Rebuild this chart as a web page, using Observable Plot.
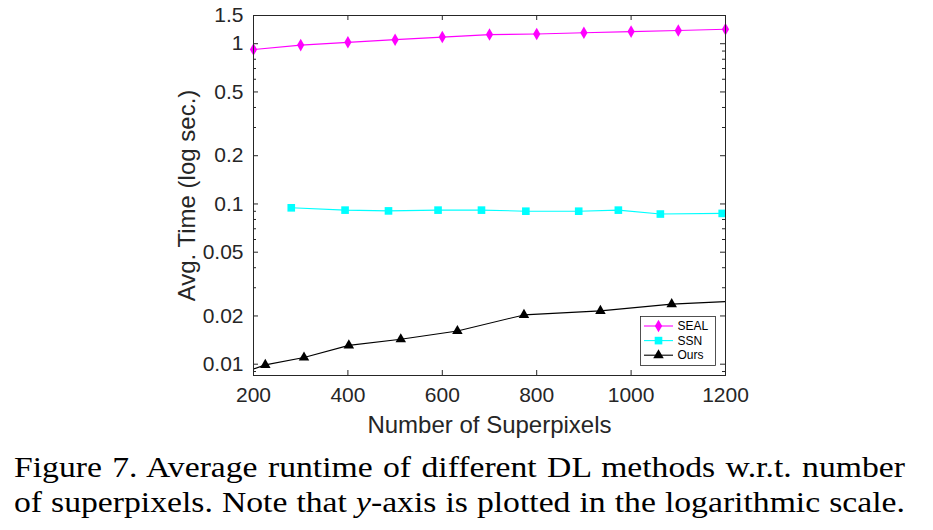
<!DOCTYPE html>
<html>
<head>
<meta charset="utf-8">
<script src="https://cdn.jsdelivr.net/npm/d3@7"></script>
<script src="https://cdn.jsdelivr.net/npm/@observablehq/plot@0.6"></script>
<style>
  html, body { margin: 0; padding: 0; background: #fff; }
  #chart { position: relative; width: 933px; }
  #caption {
    font-family: "Liberation Serif", "Times New Roman", serif;
    font-size: 30px;
    line-height: 35px;
    color: #000;
    width: 794px;
    margin-left: 14px;
    margin-top: 9px;
    transform: scaleX(1.122);
    transform-origin: 0 0;
  }
  #caption div { text-align: justify; text-align-last: justify; }
</style>
</head>
<body>
<div id="chart"></div>
<div id="caption">
  <div>Figure 7. Average runtime of different DL methods w.r.t. number</div>
  <div>of superpixels. Note that <i>y</i>-axis is plotted in the logarithmic scale.</div>
</div>
<script>
// ---- data ----
const xTicks = [200, 400, 600, 800, 1000, 1200];
const yTickValues = [0.01, 0.02, 0.05, 0.1, 0.2, 0.5, 1, 1.5];
const yTickLabels = ["0.01", "0.02", "0.05", "0.1", "0.2", "0.5", "1", "1.5"];
const yMinorTicks = [0.009, 0.03, 0.04, 0.06, 0.07, 0.08, 0.09, 0.3, 0.4, 0.6, 0.7, 0.8, 0.9];

const sealX = [200, 300, 400, 500, 600, 700, 800, 900, 1000, 1100, 1200];
const sealTime = [0.92, 0.98, 1.02, 1.06, 1.10, 1.14, 1.15, 1.17, 1.19, 1.21, 1.23];

const ssnX = [280, 394, 486, 591, 683, 777, 889, 973, 1062, 1193];
const ssnTime = [0.0946, 0.0915, 0.0905, 0.0915, 0.0915, 0.0901, 0.0901, 0.0915, 0.0865, 0.0873];

const oursX = [150, 225, 307, 402, 512, 632, 773, 935, 1086, 1250];
const oursTime = [0.0083, 0.0099, 0.011, 0.0131, 0.0143, 0.0161, 0.0203, 0.0215, 0.0237, 0.025];

const seriesNames = ["SEAL", "SSN", "Ours"];
const seriesColors = ["#ff00ff", "#00ffff", "#000000"];

// ---- build tables ----
const seal = sealX.map((x, i) => ({x, y: sealTime[i]}));
const ssn = ssnX.map((x, i) => ({x, y: ssnTime[i]}));
const ours = oursX.map((x, i) => ({x, y: oursTime[i]}));
const inDomain = d => d.x >= 200 && d.x <= 1200;

const W = 933, H = 440;
const mL = 253, mR = 208, mT = 15, mB = 65;
const fw = W - mL - mR, fh = H - mT - mB;
const axisColor = "#262626";

const chart = Plot.plot({
  width: W,
  height: H,
  marginLeft: mL,
  marginRight: mR,
  marginTop: mT,
  marginBottom: mB,
  style: {fontFamily: "'Liberation Sans', Arial, sans-serif", fontSize: "21px", color: axisColor, background: "#fff", overflow: "visible"},
  x: {domain: [200, 1200]},
  y: {type: "log", domain: [0.0085, 1.5]},
  marks: [
    // inward ticks
    Plot.ruleY(yTickValues, {y: d => d, stroke: axisColor, insetRight: fw - 5}),
    Plot.ruleY(yTickValues, {y: d => d, stroke: axisColor, insetLeft: fw - 5}),
    Plot.ruleY(yMinorTicks, {y: d => d, stroke: axisColor, insetRight: fw - 3}),
    Plot.ruleY(yMinorTicks, {y: d => d, stroke: axisColor, insetLeft: fw - 3}),
    Plot.ruleX(xTicks, {x: d => d, stroke: axisColor, insetTop: fh - 5}),
    Plot.ruleX(xTicks, {x: d => d, stroke: axisColor, insetBottom: fh - 5}),
    Plot.axisY({ticks: yTickValues, tickFormat: d => yTickLabels[yTickValues.indexOf(d)], tickSize: 0, tickPadding: 10, label: null, fontSize: 21}),
    Plot.axisX({ticks: xTicks, tickFormat: d => String(d), tickSize: 0, tickPadding: 12, label: null, fontSize: 21}),
    // series
    Plot.line(seal, {x: "x", y: "y", stroke: seriesColors[0], strokeWidth: 1.1}),
    Plot.dot(seal, {x: "x", y: "y", symbol: "diamond", fill: seriesColors[0], r: 3.8}),
    Plot.line(ssn, {x: "x", y: "y", stroke: seriesColors[1], strokeWidth: 1.1}),
    Plot.dot(ssn, {x: "x", y: "y", symbol: "square", fill: seriesColors[1], r: 4.3}),
    Plot.line(ours, {x: "x", y: "y", stroke: seriesColors[2], strokeWidth: 1.1, clip: true}),
    Plot.dot(ours.filter(inDomain), {x: "x", y: "y", symbol: "triangle", fill: seriesColors[2], r: 3.9}),
    Plot.frame({stroke: axisColor, strokeWidth: 1}),
    // axis titles
    Plot.text(["Avg. Time (log sec.)"], {frameAnchor: "left", textAnchor: "middle", dx: -66, rotate: -90, fontSize: 24, fill: axisColor}),
    Plot.text(["Number of Superpixels"], {frameAnchor: "bottom", textAnchor: "middle", dy: 57, fontSize: 24, fill: axisColor})
  ]
});
document.getElementById("chart").appendChild(chart);

// ---- legend inside the axes ----
const svg = d3.select(chart);
const lg = svg.append("g")
  .attr("font-family", "'Liberation Sans', Arial, sans-serif")
  .attr("font-size", 12)
  .attr("text-anchor", "start");
lg.append("rect").attr("x", 640.5).attr("y", 316.5).attr("width", 75).attr("height", 49)
  .attr("fill", "#fff").attr("stroke", axisColor).attr("stroke-width", 0.8);
const symbols = [d3.symbolDiamond, d3.symbolSquare, d3.symbolTriangle];
const sizes = [Math.PI * 3.8 * 3.8, Math.PI * 4.3 * 4.3, Math.PI * 3.9 * 3.9];
seriesNames.forEach((name, i) => {
  const y = 326 + i * 14.6;
  lg.append("line").attr("x1", 644).attr("x2", 673).attr("y1", y).attr("y2", y)
    .attr("stroke", seriesColors[i]).attr("stroke-width", 1.1);
  lg.append("path").attr("d", d3.symbol(symbols[i], sizes[i])())
    .attr("transform", `translate(658.5,${y})`).attr("fill", seriesColors[i]);
  lg.append("text").attr("x", 677.5).attr("y", y).attr("dy", "0.35em")
    .attr("text-anchor", "start").attr("fill", "#000").text(name);
});
</script>
</body>
</html>
